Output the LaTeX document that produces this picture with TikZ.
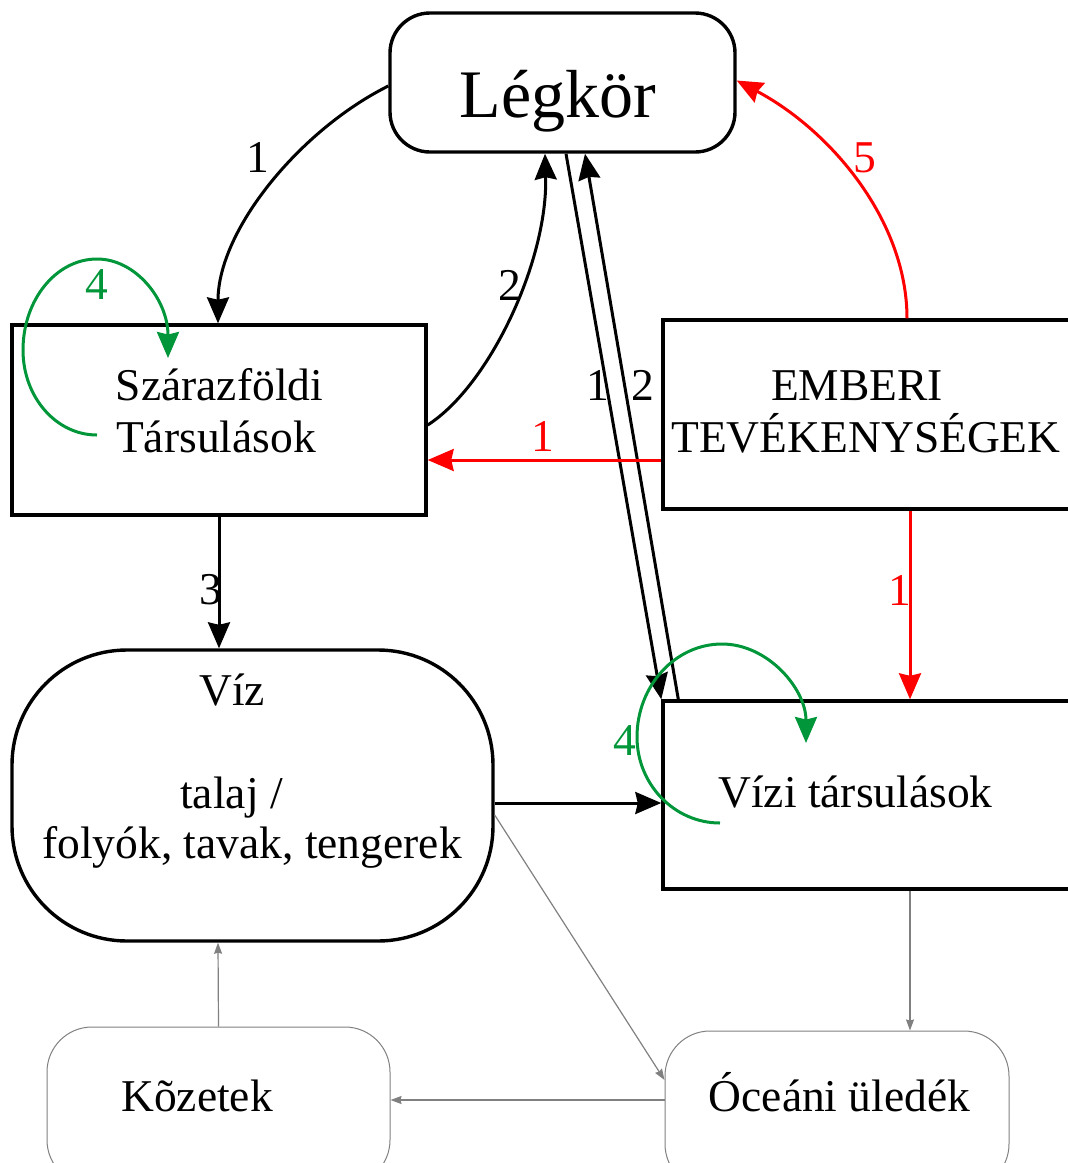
\documentclass[tikz,border=0pt]{standalone}
\usepackage{fontspec}
\setmainfont{Liberation Serif}
\usetikzlibrary{arrows.meta}
\definecolor{flowred}{RGB}{255,0,0}
\definecolor{loopgreen}{RGB}{0,150,57}
\definecolor{minorgray}{RGB}{128,128,128}

\begin{document}
\begin{tikzpicture}[x=1pt,y=1pt,
  txt/.style={inner sep=0pt, anchor=base, font=\fontsize{45.5}{51}\selectfont},
  bigtxt/.style={inner sep=0pt, anchor=base, font=\fontsize{68}{75}\selectfont},
  frame/.style={draw, line width=3.4pt, inner sep=0pt},
  softframe/.style={draw=minorgray, line width=1pt, inner sep=0pt, rounded corners=45pt},
  bigtip/.style={-{Stealth[length=26pt,width=22pt,inset=2.5pt]}},
  blk/.style={draw=black, line width=3pt, bigtip},
  red/.style={draw=flowred, line width=3pt, bigtip},
  grn/.style={draw=loopgreen, line width=3pt, bigtip},
  gry/.style={draw=minorgray, line width=1.2pt, -{Stealth[length=11pt,width=8pt,inset=1pt]}},
  lab/.style={txt, text=black},
  rlab/.style={txt, text=flowred},
  glab/.style={txt, text=loopgreen}
]
\useasboundingbox (0,0) rectangle (1068,-1163);

% boxes
\node[frame, rounded corners=40pt, minimum width=345pt, minimum height=139pt] (legkor) at (562.5,-82.5) {};
\node[frame, minimum width=414pt, minimum height=190pt] (szaraz) at (219,-420) {};
\node[frame, minimum width=409pt, minimum height=189pt] (emberi) at (867.5,-414.5) {};
\node[frame, rounded corners=115pt, minimum width=481pt, minimum height=291pt] (viz) at (252.5,-795.5) {};
\node[frame, minimum width=409pt, minimum height=188pt] (vizi) at (867.5,-795) {};
\node[softframe, minimum width=343pt, minimum height=158pt] (kozet) at (218.5,-1106) {};
\node[softframe, minimum width=344pt, minimum height=158pt] (oceani) at (837,-1110) {};

% box texts
\node[bigtxt] (legkorT) at (558,-117) {Légkör};
\node[txt] (szarazT1) at (219.5,-400) {Szárazföldi};
\node[txt] (szarazT2) at (216,-452) {Társulások};
\node[txt] (emberiT1) at (857,-400) {EMBERI};
\node[txt] (emberiT2) at (866,-452) {TEVÉKENYSÉGEK};
\node[txt] (vizT1) at (232,-705) {Víz};
\node[txt] (vizT2) at (231.5,-808) {talaj /};
\node[txt] (vizT3) at (252,-858) {folyók, tavak, tengerek};
\node[txt] (viziT) at (855.5,-807) {Vízi társulások};
\node[txt] (kozetT) at (197,-1111) {Kõzetek};
\node[txt] (oceaniT) at (839.5,-1111) {Óceáni üledék};

% black flows
\draw[blk] ([yshift=-3.5pt]legkor.west) .. controls (300,-130) and (218,-230) .. ([xshift=-1pt]szaraz.north);
\draw[blk] ([yshift=-5pt]szaraz.east) .. controls (490,-385) and (548,-260) .. ([xshift=-17.5pt]legkor.south);
\draw[blk] (szaraz.south) -- ([xshift=-33.5pt]viz.north);
\draw[blk] ([xshift=3.5pt]legkor.south) -- (vizi.north west);
\draw[blk] ([xshift=17pt]vizi.north west) -- ([xshift=22.5pt]legkor.south);
\draw[blk] ([yshift=-7.5pt]viz.east) -- ([yshift=-8pt]vizi.west);

% human impacts
\draw[red] ([yshift=-45.5pt]emberi.west) -- ([yshift=-40pt]szaraz.east);
\draw[red] ([xshift=42.5pt]emberi.south) -- ([xshift=42.5pt]vizi.north);
\draw[red] ([xshift=39.5pt]emberi.north) .. controls (907,-220) and (830,-130) .. ([yshift=2pt]legkor.east);

% self loops
\coordinate (szLoopA) at (97,-435);
\coordinate (szLoopB) at (168,-358);
\draw[grn] (szLoopA) .. controls (56,-435) and (23,-397) .. (23,-350)
  .. controls (23,-300) and (56,-259) .. (97,-259)
  .. controls (136,-259) and (168,-300) .. (szLoopB);
\coordinate (viLoopA) at (720,-823);
\coordinate (viLoopB) at (806,-743);
\draw[grn] (viLoopA) .. controls (674,-823) and (637,-784) .. (637,-737)
  .. controls (637,-686) and (675,-644) .. (722,-644)
  .. controls (768,-644) and (806,-689) .. (viLoopB);

% minor flows
\draw[gry] ([yshift=-19.5pt]viz.east) -- ([yshift=30pt]oceani.west);
\draw[gry] ([xshift=42.5pt]vizi.south) -- ([xshift=73pt]oceani.north);
\draw[gry] ([yshift=10pt]oceani.west) -- ([yshift=6pt]kozet.east);
\draw[gry] (kozet.north) -- ([xshift=-34.5pt]viz.south);

% flow labels
\node[lab] (n1a) at (258,-172) {1};
\node[lab] (n2a) at (510,-300) {2};
\node[lab] (n3) at (211,-604) {3};
\node[lab] (n1b) at (598,-400) {1};
\node[lab] (n2b) at (643,-400) {2};
\node[rlab] (r1a) at (543,-451) {1};
\node[rlab] (r1b) at (900,-605) {1};
\node[rlab] (r5) at (865,-172) {5};
\node[glab] (g4a) at (97,-299) {4};
\node[glab] (g4b) at (625,-755) {4};
\end{tikzpicture}
\end{document}
